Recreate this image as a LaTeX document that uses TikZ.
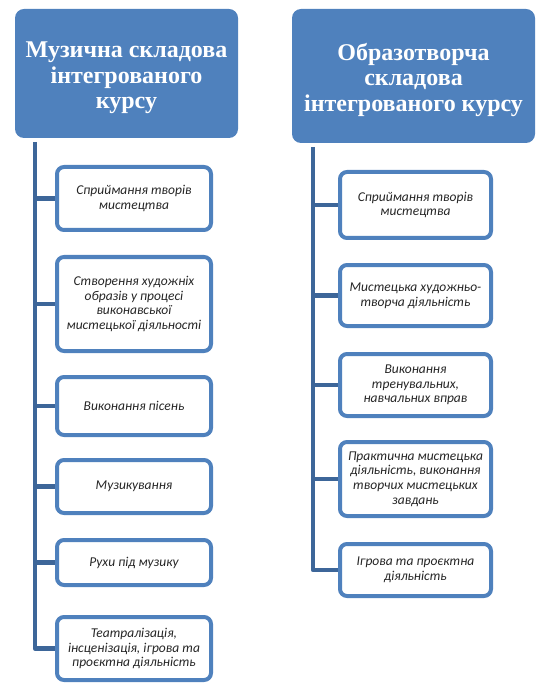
\documentclass[tikz,border=0pt]{standalone}
\usepackage{fontspec}
\setmainfont{Liberation Serif}
\newfontfamily\itemfont{Carlito}
\usetikzlibrary{positioning}
\definecolor{boxblue}{HTML}{4F81BD}
\definecolor{lineblue}{HTML}{3D6699}

\begin{document}
\begin{tikzpicture}[node distance=27pt,
  head node/.style={rectangle,rounded corners=9pt,fill=boxblue,text=white,outer sep=0pt,
    font=\fontsize{24}{25.5}\selectfont\bfseries,align=center,inner sep=2pt,text height=76pt},
  item node/.style={rectangle,rounded corners=7pt,draw=boxblue,line width=4pt,fill=white,outer sep=0pt,
    text=black!85,font=\itemfont\itshape\fontsize{13.5}{14.7}\selectfont,align=center,inner sep=3pt},
  tree line/.style={lineblue,line width=4.5pt,line join=round,shorten >=2pt}]

  \useasboundingbox (0pt,0pt) rectangle (536pt,-684pt);

  % headings
  \node[head node,minimum width=223pt,minimum height=129pt] (music) at (126.5pt,-73.5pt)
    {Музична складова\\інтегрованого\\курсу};
  \node[head node,minimum width=243pt,minimum height=134pt] (art) at (413.5pt,-76pt)
    {Образотворча\\складова\\інтегрованого курсу};

  % music column
  \node[item node,minimum width=154pt,minimum height=63pt] (m1) [below=29pt of music,xshift=7.5pt]
    {Сприймання творів\\мистецтва};
  \node[item node,minimum width=154pt,minimum height=94pt] (m2) [below=27pt of m1]
    {Створення художніх\\образів у процесі\\виконавської\\мистецької діяльності};
  \node[item node,minimum width=154pt,minimum height=58pt] (m3) [below=26pt of m2]
    {Виконання пісень};
  \node[item node,minimum width=154pt,minimum height=53pt] (m4) [below=25pt of m3]
    {Музикування};
  \node[item node,minimum width=154pt,minimum height=45pt] (m5) [below=27pt of m4]
    {Рухи під музику};
  \node[item node,minimum width=154pt,minimum height=63pt] (m6) [below=32pt of m5]
    {Театралізація,\\інсценізація, ігрова та\\проєктна діяльність};

  % art column
  \node[item node,minimum width=151pt,minimum height=66pt] (r1) [below=29pt of art,xshift=2pt]
    {Сприймання творів\\мистецтва};
  \node[item node,minimum width=151pt,minimum height=61pt] (r2) [below=27pt of r1]
    {Мистецька художньо-\\творча діяльність};
  \node[item node,minimum width=151pt,minimum height=62pt] (r3) [below=28pt of r2]
    {Виконання\\тренувальних,\\навчальних вправ};
  \node[item node,minimum width=151pt,minimum height=74pt] (r4) [below=26pt of r3]
    {Практична мистецька\\діяльність, виконання\\творчих мистецьких\\завдань};
  \node[item node,minimum width=151pt,minimum height=52pt] (r5) [below=28pt of r4]
    {Ігрова та проєктна\\діяльність};

  % connectors
  \coordinate (musictop) at ([xshift=20pt,yshift=-4pt]music.south west);
  \coordinate (arttop) at ([xshift=21pt,yshift=-4pt]art.south west);
  \draw[tree line] (musictop) |- (m6.west);
  \foreach \n in {m1,m2,m3,m4,m5}
    \draw[tree line] (\n.west -| musictop) -- (\n.west);
  \draw[tree line] (arttop) |- (r5.west);
  \foreach \n in {r1,r2,r3,r4}
    \draw[tree line] (\n.west -| arttop) -- (\n.west);
\end{tikzpicture}
\end{document}
